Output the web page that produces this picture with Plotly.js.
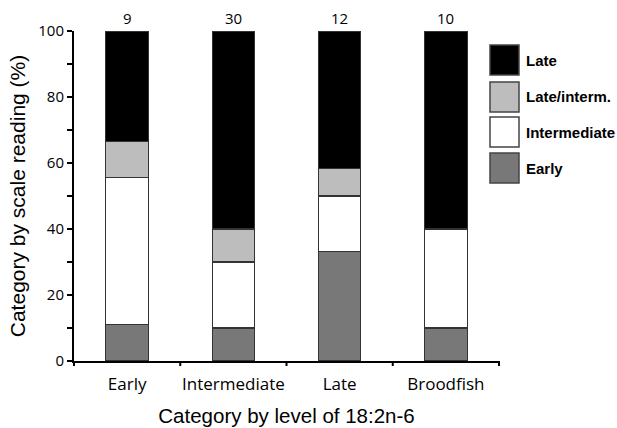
<!DOCTYPE html>
<html><head><meta charset="utf-8">
<script src="https://cdn.plot.ly/plotly-3.0.1.min.js"></script>
<style>html,body{margin:0;padding:0;background:#fff}#chart{width:617px;height:428px}</style>
</head><body><div id="chart"></div>
<script>
const groups = ["Early", "Intermediate", "Late", "Broodfish"];
const counts = [9, 30, 12, 10];
const earlyPct = [11.1, 10, 33.3, 10];
const intermediatePct = [44.4, 20, 16.7, 30];
const lateIntermPct = [11.1, 10, 8.3, 0];
const latePct = [33.3, 60, 41.7, 60];
const seriesNames = ["Late", "Late/interm.", "Intermediate", "Early"];
const seriesColors = ["#000000", "#bdbdbd", "#ffffff", "#787878"];

const L = 74, R = 499, T = 31, B = 361;
const W = R - L, H = B - T;
const lineStyle = {color: "#333", width: 1.2};
function bar(name, y, color) {
  return {type: "bar", name: name, x: groups, y: y, width: 0.4,
    marker: {color: color, line: lineStyle}, showlegend: false, hoverinfo: "skip"};
}
const data = [
  bar("Early", earlyPct, seriesColors[3]),
  bar("Intermediate", intermediatePct, seriesColors[2]),
  bar("Late/interm.", lateIntermPct, seriesColors[1]),
  bar("Late", latePct, seriesColors[0])
];

const tickFamily = "Open Sans, Liberation Sans, Arial";
const annotations = groups.map((g, i) => ({
  x: g, y: 100, xref: "x", yref: "y", text: String(counts[i]), showarrow: false,
  yanchor: "bottom", yshift: 1, font: {size: 15, color: "#000", family: tickFamily}
}));
const shapes = [];
// custom legend (drawn in pixel-equivalent paper coordinates)
const px = x => (x - L) / W, py = y => (B - y) / H;
const legTops = [45, 82, 117, 153], boxH = 30, boxL = 490, boxR = 519;
seriesNames.forEach((n, i) => {
  const y0 = legTops[i];
  shapes.push({type: "rect", xref: "paper", yref: "paper",
    x0: px(boxL), x1: px(boxR), y0: py(y0 + boxH), y1: py(y0),
    fillcolor: seriesColors[i], line: {color: "#444", width: 1.5}});
  annotations.push({xref: "paper", yref: "paper", x: px(524),
    y: py(y0 + boxH / 2), xanchor: "left", yanchor: "middle",
    text: "<b>" + n + "</b>", showarrow: false,
    font: {size: 15, color: "#000", family: "Liberation Sans, Arial"}});
});

const layout = {
  width: 617, height: 428, barmode: "stack",
  margin: {l: L, r: 617 - R, t: T, b: 428 - B},
  paper_bgcolor: "#fff", plot_bgcolor: "#fff",
  font: {family: "Liberation Sans, Arial", color: "#000"},
  xaxis: {type: "category", showline: true, linecolor: "#000", linewidth: 2,
    ticks: "", ticklabelstandoff: 7, tickfont: {size: 17, family: tickFamily},
    showgrid: false, zeroline: false, fixedrange: true,
    title: {text: "Category by level of 18:2n-6", font: {size: 20.5}, standoff: 14}},
  yaxis: {range: [0, 100], showline: true, linecolor: "#000", linewidth: 2,
    ticks: "outside", ticklen: 5, tickwidth: 2, tickcolor: "#000",
    tickvals: [0, 20, 40, 60, 80, 100], tickfont: {size: 15, family: tickFamily},
    minor: {tickvals: [10, 30, 50, 70, 90], ticks: "outside", ticklen: 5, tickwidth: 2, tickcolor: "#000"},
    showgrid: false, zeroline: false,
    title: {text: "Category by scale reading (%)", font: {size: 21}, standoff: 7}},
  shapes: shapes.concat([0, 1, 2, 3, 4].map(k => ({type: "line", xref: "paper", yref: "paper",
    x0: k / 4, x1: k / 4, y0: 0, y1: -5 / H, line: {color: "#000", width: 2}}))),
  annotations: annotations
};
Plotly.newPlot("chart", data, layout, {displayModeBar: false, staticPlot: true});
</script></body></html>
